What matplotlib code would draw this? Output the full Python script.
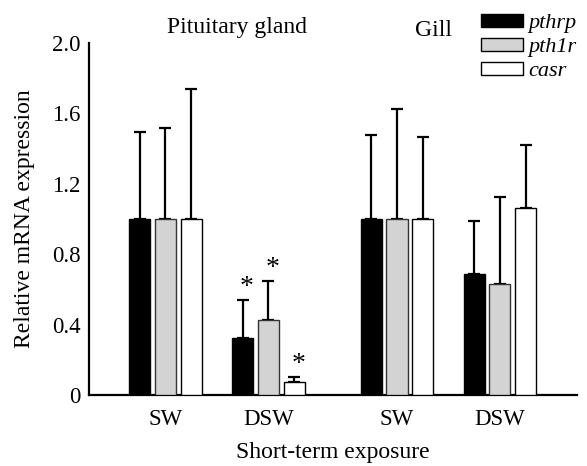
import matplotlib
matplotlib.use("Agg")
import matplotlib.pyplot as plt
from matplotlib.patches import Patch
import numpy as np

plt.rcParams['font.family'] = ['Liberation Serif', 'DejaVu Serif']

groups = ["SW", "DSW", "SW", "DSW"]
genes = ["pthrp", "pth1r", "casr"]
means = {
    "pthrp": [1.0, 0.324, 1.0, 0.688],
    "pth1r": [1.0, 0.426, 1.0, 0.633],
    "casr":  [1.0, 0.074, 1.0, 1.063],
}
err_top = {
    "pthrp": [1.494, 0.54, 1.477, 0.989],
    "pth1r": [1.517, 0.648, 1.625, 1.125],
    "casr":  [1.74, 0.104, 1.466, 1.42],
}
signif = {
    "pthrp": [False, True, False, False],
    "pth1r": [False, True, False, False],
    "casr":  [False, True, False, False],
}
colors = {"pthrp": "black", "pth1r": "#d3d3d3", "casr": "white"}
group_pos = np.array([0.0, 1.0, 2.25, 3.25])
width = 0.205
offsets = [-0.25, 0.0, 0.25]

fig = plt.figure(figsize=(5.87, 4.66), dpi=100)
ax = fig.add_axes([0.1516, 0.1524, 0.983 - 0.1516, 0.9077 - 0.1524])

for g, off in zip(genes, offsets):
    x = group_pos + off
    m = np.array(means[g])
    e = np.array(err_top[g]) - m
    ax.bar(x, m, width, color=colors[g], edgecolor="black" if g != "pth1r" else "#333333",
           linewidth=1.0, zorder=3)
    ax.errorbar(x, m, yerr=[np.zeros_like(e), e], fmt="none", ecolor="black",
                elinewidth=1.6, capsize=4, capthick=1.6, zorder=2)
    for xi, top, s in zip(x, err_top[g], signif[g]):
        if s:
            ax.annotate("*", (xi, top), xytext=(3, 0), textcoords="offset points",
                        ha="center", va="bottom", fontsize=20)

ax.set_xlim(-0.743, 4.0)
ax.set_ylim(0, 2.0)
ax.set_yticks([0, 0.4, 0.8, 1.2, 1.6, 2.0])
ax.set_yticklabels(["0", "0.4", "0.8", "1.2", "1.6", "2.0"])
ax.set_xticks(group_pos)
ax.set_xticklabels(groups)
ax.tick_params(axis="both", length=0, labelsize=16.5, pad=10)
ax.tick_params(axis="y", pad=6)
for s in ["top", "right"]:
    ax.spines[s].set_visible(False)
ax.spines["left"].set_linewidth(1.6)
ax.spines["bottom"].set_linewidth(1.6)

ax.set_ylabel("Relative mRNA expression", fontsize=17, labelpad=12)
ax.set_xlabel("Short-term exposure", fontsize=17, labelpad=9)

fig.text(237 / 587, 1 - 28 / 466, "Pituitary gland", fontsize=17, ha="center", va="center")
fig.text(433 / 587, 1 - 31 / 466, "Gill", fontsize=17, ha="center", va="center")

handles = [Patch(facecolor=colors[g], edgecolor="black", linewidth=1.0) for g in genes]
leg = fig.legend(handles, genes, loc="upper left", bbox_to_anchor=(472 / 587, 1 - 5 / 466),
                 frameon=False, handlelength=1.9, handleheight=0.55, handletextpad=0.25,
                 labelspacing=0.2, borderaxespad=0, prop={"style": "italic", "size": 16,
                                                          "family": "Liberation Serif"})

fig.savefig("out.png", dpi=100)
